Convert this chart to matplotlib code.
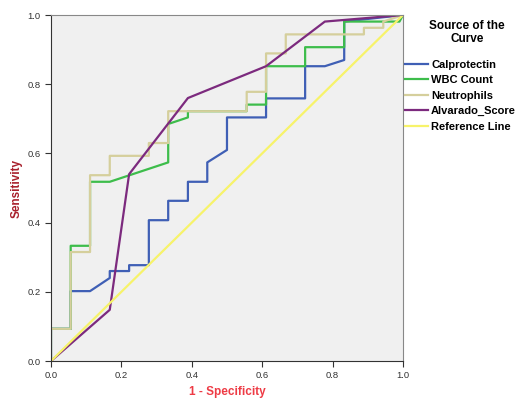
import matplotlib
matplotlib.use("Agg")
import matplotlib.pyplot as plt

plt.rcParams["font.family"] = ["Liberation Sans", "DejaVu Sans"]

# ROC curves (1 - specificity, sensitivity)
calpro_x = [0, 0, 0.056, 0.056, 0.111, 0.167, 0.167, 0.222, 0.222, 0.278, 0.278, 0.333, 0.333,
            0.389, 0.389, 0.444, 0.444, 0.5, 0.5, 0.611, 0.611, 0.722, 0.722, 0.778, 0.833, 0.833, 1.0]
calpro_y = [0, 0.093, 0.093, 0.202, 0.202, 0.24, 0.26, 0.26, 0.277, 0.277, 0.407, 0.407, 0.463,
            0.463, 0.518, 0.518, 0.574, 0.61, 0.704, 0.704, 0.759, 0.759, 0.852, 0.852, 0.87, 0.981, 1.0]

wbc_x = [0, 0, 0.056, 0.056, 0.111, 0.111, 0.167, 0.333, 0.333, 0.389, 0.389, 0.556, 0.556,
         0.611, 0.611, 0.722, 0.722, 0.833, 0.833, 0.99, 1.0]
wbc_y = [0, 0.093, 0.093, 0.333, 0.333, 0.518, 0.518, 0.574, 0.685, 0.704, 0.722, 0.722, 0.741,
         0.741, 0.852, 0.852, 0.907, 0.907, 0.981, 0.981, 1.0]

neut_x = [0, 0, 0.056, 0.056, 0.111, 0.111, 0.167, 0.167, 0.278, 0.278, 0.333, 0.333, 0.556,
          0.556, 0.611, 0.611, 0.667, 0.667, 0.889, 0.889, 0.944, 0.944, 1.0]
neut_y = [0, 0.093, 0.093, 0.315, 0.315, 0.537, 0.537, 0.593, 0.593, 0.63, 0.63, 0.722, 0.722,
          0.778, 0.778, 0.889, 0.889, 0.944, 0.944, 0.963, 0.963, 0.981, 1.0]

alv_x = [0, 0.167, 0.222, 0.389, 0.611, 0.778, 1.0]
alv_y = [0, 0.148, 0.54, 0.76, 0.852, 0.981, 1.0]

ref_x = [0, 1]
ref_y = [0, 1]

fig = plt.figure(figsize=(5.25, 3.99), dpi=100)
ax = fig.add_axes([0.0971, 0.0952, 0.6705, 0.8672])
ax.set_facecolor("#f0f0f0")

ax.plot(calpro_x, calpro_y, color="#3f5fb5", lw=1.6, label="Calprotectin")
ax.plot(wbc_x, wbc_y, color="#3dbd4b", lw=1.6, label="WBC Count")
ax.plot(neut_x, neut_y, color="#d5cf9c", lw=1.6, label="Neutrophils")
ax.plot(alv_x, alv_y, color="#7c2a7e", lw=1.6, label="Alvarado_Score")
ax.plot(ref_x, ref_y, color="#f7f36a", lw=1.6, label="Reference Line")

ax.set_xlim(0, 1)
ax.set_ylim(0, 1)
ticks = [0, 0.2, 0.4, 0.6, 0.8, 1.0]
ax.set_xticks(ticks)
ax.set_yticks(ticks)
ax.set_xticklabels([f"{t:.1f}" for t in ticks])
ax.set_yticklabels([f"{t:.1f}" for t in ticks])
ax.tick_params(labelsize=6.8, length=4, width=0.8, colors="#333333")

for s in ["top", "right"]:
    ax.spines[s].set_color("#888888")
for s in ["left", "bottom"]:
    ax.spines[s].set_color("#333333")

ax.set_xlabel("1 - Specificity", fontsize=8.5, fontweight="bold", color="#ee3b45")
ax.set_ylabel("Sensitivity", fontsize=8.5, fontweight="bold", color="#a8202c")
ax.xaxis.set_label_coords(0.5, -0.072)
ax.yaxis.set_label_coords(-0.08, 0.5)

fig.text(467 / 525, 1 - 20 / 399, "Source of the\nCurve", ha="center", va="top",
         multialignment="center", fontsize=8.5, fontweight="bold", linespacing=1.15)

leg = fig.legend(loc="upper left", bbox_to_anchor=(0.763, 0.862), frameon=False,
                 fontsize=8, handlelength=2.05, handletextpad=0.3,
                 labelspacing=0.5, borderaxespad=0)
for t in leg.get_texts():
    t.set_fontweight("bold")

fig.savefig("out.png", dpi=100)
